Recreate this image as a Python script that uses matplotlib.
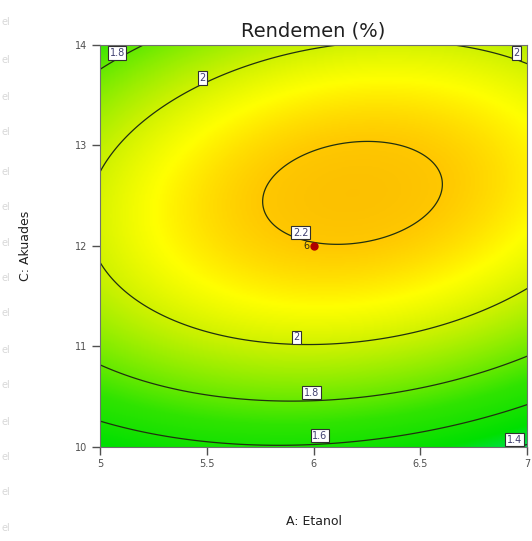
import numpy as np
import matplotlib
matplotlib.use("Agg")
import matplotlib.pyplot as plt
from matplotlib.colors import LinearSegmentedColormap

# Contour crossings: (A: Etanol, C: Akuades, Rendemen level)
pts_a = [5.00, 5.48, 6.16, 6.63, 7.00, 5.00, 5.45, 5.83, 5.98, 6.45, 7.00,
         5.22, 5.00, 5.00, 5.83, 7.00,
         5.00, 5.94, 7.00,
         5.76, 6.30, 6.61, 6.08, 5.94]
pts_c = [12.74, 13.67, 14.00, 14.00, 13.82, 11.86, 11.18, 11.01, 11.01, 11.13, 11.58,
         14.00, 13.75, 10.82, 10.47, 10.90,
         10.25, 10.02, 10.42,
         12.43, 13.03, 12.63, 12.01, 12.16]
pts_level = [2.0] * 11 + [1.8] * 5 + [1.6] * 3 + [2.2] * 5

levels = [1.4, 1.6, 1.8, 2.0, 2.2]
x_ticks = [5, 5.5, 6, 6.5, 7]
y_ticks = [10, 11, 12, 13, 14]
design_point = (6.0, 12.0)
design_count = "6"

# fit the quadratic response surface through the read points
A = np.array(pts_a)
C = np.array(pts_c)
M = np.column_stack([np.ones_like(A), A, C, A * C, A ** 2, C ** 2])
coef, *_ = np.linalg.lstsq(M, np.array(pts_level), rcond=None)

ga, gc = np.meshgrid(np.linspace(5, 7, 300), np.linspace(10, 14, 300))
Z = (coef[0] + coef[1] * ga + coef[2] * gc + coef[3] * ga * gc
     + coef[4] * ga ** 2 + coef[5] * gc ** 2)

vmin, vmax = 1.35, 2.30
stops = [(1.35, "#00e070"), (1.50, "#00e000"), (1.70, "#30e400"),
         (1.85, "#80ec00"), (2.00, "#d0f200"), (2.10, "#ffff00"),
         (2.20, "#ffc800"), (2.30, "#f5b000")]
cmap = LinearSegmentedColormap.from_list(
    "de", [((v - vmin) / (vmax - vmin), c) for v, c in stops])

fig = plt.figure(figsize=(5.32, 5.41), dpi=100)
ax = fig.add_axes([0.188, 0.174, 0.803, 0.743])

ax.imshow(Z, extent=(5, 7, 10, 14), origin="lower", aspect="auto",
          cmap=cmap, vmin=vmin, vmax=vmax, interpolation="bilinear")
cs = ax.contour(ga, gc, Z, levels=levels, colors="#203010", linewidths=0.9)

# label boxes as placed in the reference (Design-Expert puts them beside the line)
label_pos = [(5.08, 13.92), (5.48, 13.67), (6.95, 13.92), (5.94, 12.13),
             (5.92, 11.09), (5.99, 10.54), (6.03, 10.11), (6.94, 10.07)]
labels = ax.clabel(cs, fmt=lambda v: f"{v:g}", inline=False, fontsize=7,
                   manual=label_pos, colors="#404070")
for t, pos in zip(labels, label_pos):
    t.set_rotation(0)
    t.set_position(pos)
    t.set_bbox(dict(facecolor="white", edgecolor="#303030", linewidth=0.8, pad=1.2))

ax.plot(*design_point, "o", color="#b00000", markersize=5, zorder=5)
ax.text(design_point[0] - 0.02, design_point[1], design_count, fontsize=7,
        color="#303010", ha="right", va="center", zorder=5)

ax.set_xlim(5, 7)
ax.set_ylim(10, 14)
ax.set_xticks(x_ticks)
ax.set_xticklabels([f"{v:g}" for v in x_ticks])
ax.set_yticks(y_ticks)
ax.tick_params(direction="out", length=6, width=1, labelsize=7,
               labelcolor="#505050", color="#505050", pad=3)
for s in ax.spines.values():
    s.set_color("#707070")

ax.set_title("Rendemen (%)", fontsize=14, color="#202020", pad=6)
ax.set_xlabel("A: Etanol", fontsize=9, color="#202020", labelpad=33)
ax.set_ylabel("C: Akuades", fontsize=9, color="#202020", labelpad=31)

# faint bleed-through text on the left margin
for yy in [22, 60, 97, 132, 172, 207, 243, 278, 313, 350, 385, 422, 457, 492, 528]:
    fig.text(0.002, 1 - yy / 541, "el", fontsize=7, color="#d8d8d8",
             ha="left", va="center")

fig.savefig("out.png", dpi=100)
